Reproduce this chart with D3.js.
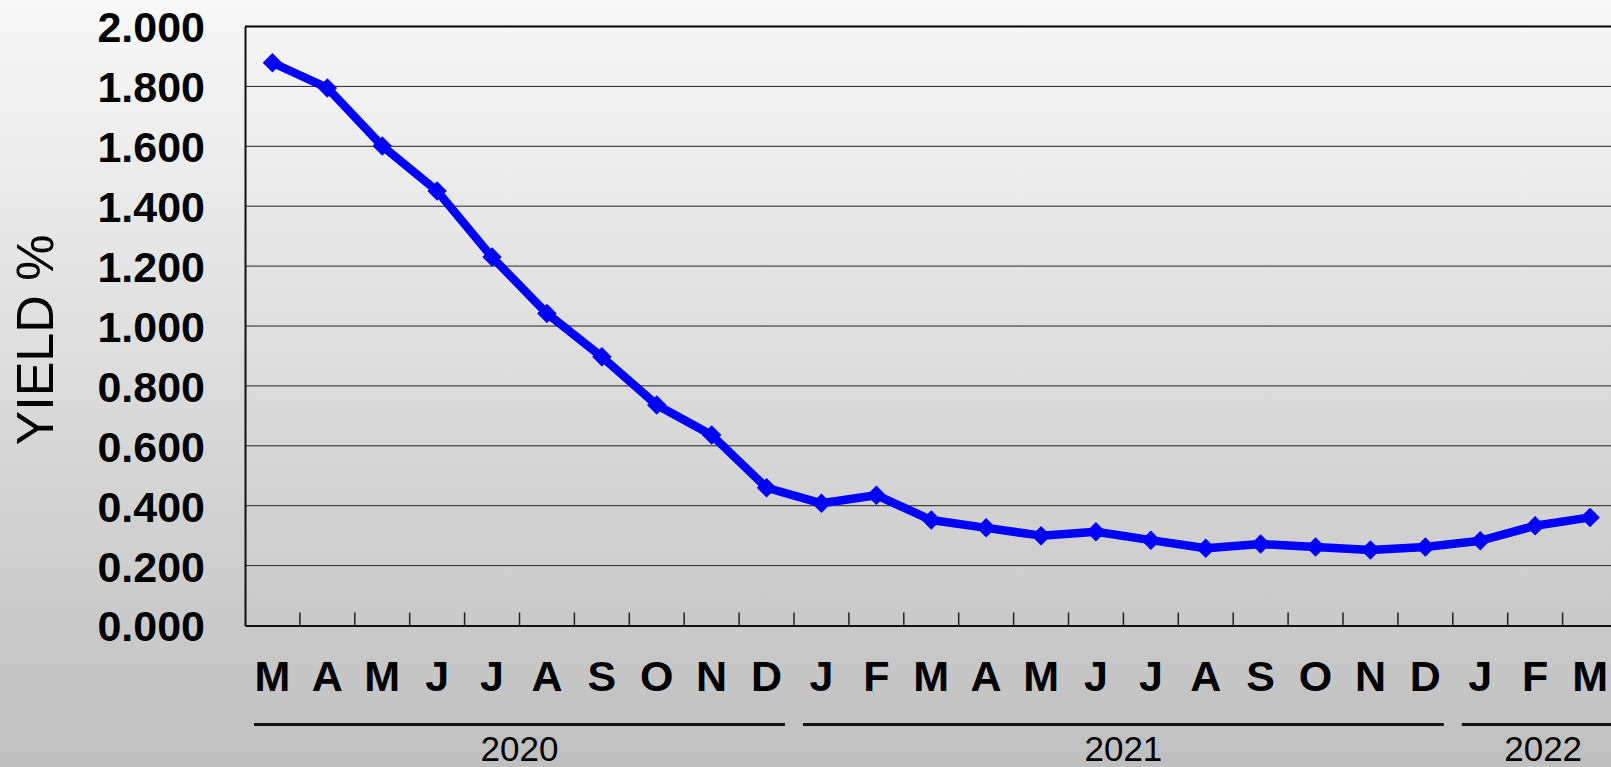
<!DOCTYPE html>
<html>
<head>
<meta charset="utf-8">
<script src="https://cdn.jsdelivr.net/npm/d3@7"></script>
<style>
  html, body { margin: 0; padding: 0; overflow: hidden; }
  svg { display: block; }
</style>
</head>
<body>
<svg id="chart" width="1611" height="767"></svg>
<script>
var months = ["M", "A", "M", "J", "J", "A", "S", "O", "N", "D",
              "J", "F", "M", "A", "M", "J", "J", "A", "S", "O", "N", "D",
              "J", "F", "M"];
var yields = [1.879, 1.795, 1.601, 1.451, 1.230, 1.042, 0.897, 0.736, 0.636, 0.460,
              0.408, 0.435, 0.352, 0.326, 0.300, 0.313, 0.285, 0.258, 0.272, 0.262, 0.252, 0.262,
              0.283, 0.333, 0.361];
var years = ["2020", "2021", "2022"];
var yearCounts = [10, 12, 3];
var yTicks = [0, 0.2, 0.4, 0.6, 0.8, 1.0, 1.2, 1.4, 1.6, 1.8, 2.0];

var svg = d3.select("#chart"),
    width = +svg.attr("width"),
    height = +svg.attr("height");

var margin = { top: 26.5, left: 245 },
    bandW = 54.9,
    plotBottom = 625.5;

var defs = svg.append("defs");
var grad = defs.append("linearGradient")
    .attr("id", "bg")
    .attr("x1", 0).attr("y1", 0).attr("x2", 0).attr("y2", 1);
grad.append("stop").attr("offset", "0%").attr("stop-color", "#f8f8f8");
grad.append("stop").attr("offset", "100%").attr("stop-color", "#bfbfbf");

svg.append("rect")
    .attr("width", width)
    .attr("height", height)
    .attr("fill", "url(#bg)");

var x = d3.scaleBand()
    .domain(d3.range(months.length))
    .range([margin.left, margin.left + bandW * months.length])
    .padding(0);

var y = d3.scaleLinear()
    .domain([0, 2])
    .range([plotBottom, margin.top]);

var xr = x.range();

// grid
svg.append("g")
    .selectAll("line")
    .data(yTicks.filter(function (d) { return d > 0; }))
    .enter().append("line")
    .attr("x1", xr[0]).attr("x2", xr[1])
    .attr("y1", function (d) { return y(d); })
    .attr("y2", function (d) { return y(d); })
    .attr("stroke", function (d) { return d === 2 ? "#000" : "#222"; })
    .attr("stroke-width", function (d) { return d === 2 ? 2 : 1; });

// y axis
var yAxis = d3.axisLeft(y)
    .tickValues(yTicks)
    .tickSize(0)
    .tickPadding(40)
    .tickFormat(d3.format(".3f"));

var gy = svg.append("g")
    .attr("transform", "translate(" + xr[0] + ",0)")
    .call(yAxis);
gy.select(".domain").attr("stroke", "#111").attr("stroke-width", 2);
gy.selectAll("text")
    .attr("font-family", "'Liberation Sans', Arial, sans-serif")
    .attr("font-weight", "bold")
    .attr("font-size", 43)
    .attr("fill", "#000")
    .attr("dy", "0.36em");

// x axis
var xAxis = d3.axisBottom(x)
    .tickSize(0)
    .tickPadding(0)
    .tickFormat(function (i) { return months[i]; });

var gx = svg.append("g")
    .attr("transform", "translate(0," + plotBottom + ")")
    .call(xAxis);
gx.select(".domain").attr("stroke", "#111").attr("stroke-width", 2);
gx.selectAll("text")
    .attr("font-family", "'Liberation Sans', Arial, sans-serif")
    .attr("font-weight", "bold")
    .attr("font-size", 43)
    .attr("fill", "#000")
    .attr("dy", null)
    .attr("y", 65);

gx.selectAll(".sep")
    .data(d3.range(1, months.length))
    .enter().append("line")
    .attr("class", "sep")
    .attr("x1", function (i) { return x(i); })
    .attr("x2", function (i) { return x(i); })
    .attr("y1", 0)
    .attr("y2", -13)
    .attr("stroke", "#222")
    .attr("stroke-width", 1.5);

// year groups
var groups = [], start = 0;
years.forEach(function (yr, k) {
    groups.push({ year: yr, start: start, end: start + yearCounts[k] });
    start += yearCounts[k];
});

var gYear = svg.append("g").selectAll("g")
    .data(groups)
    .enter().append("g");

gYear.append("line")
    .attr("x1", function (d) { return x(d.start) + 9; })
    .attr("x2", function (d) { return d.end < months.length ? x(d.end) - 9 : xr[1]; })
    .attr("y1", 724.5).attr("y2", 724.5)
    .attr("stroke", "#111")
    .attr("stroke-width", 3);

gYear.append("text")
    .attr("x", function (d) {
        var e = d.end < months.length ? x(d.end) : xr[1];
        return (x(d.start) + e) / 2 - (d.end < months.length ? 0 : -8);
    })
    .attr("y", 761)
    .attr("text-anchor", "middle")
    .attr("font-family", "'Liberation Sans', Arial, sans-serif")
    .attr("font-size", 35)
    .attr("fill", "#000")
    .text(function (d) { return d.year; });

// y title
svg.append("text")
    .attr("transform", "translate(53,340) rotate(-90)")
    .attr("text-anchor", "middle")
    .attr("font-family", "'Liberation Sans', Arial, sans-serif")
    .attr("font-size", 52)
    .attr("fill", "#000")
    .text("YIELD %");

// line
var line = d3.line()
    .x(function (d, i) { return x(i) + x.bandwidth() / 2; })
    .y(function (d) { return y(d); });

svg.append("path")
    .datum(yields)
    .attr("d", line)
    .attr("fill", "none")
    .attr("stroke", "#0000ff")
    .attr("stroke-width", 8.5)
    .attr("stroke-linejoin", "round");

svg.append("g").selectAll("path")
    .data(yields)
    .enter().append("path")
    .attr("d", d3.symbol().type(d3.symbolSquare).size(190))
    .attr("transform", function (d, i) {
        return "translate(" + (x(i) + x.bandwidth() / 2) + "," + y(d) + ") rotate(45)";
    })
    .attr("fill", "#0000ff");
</script>
</body>
</html>
